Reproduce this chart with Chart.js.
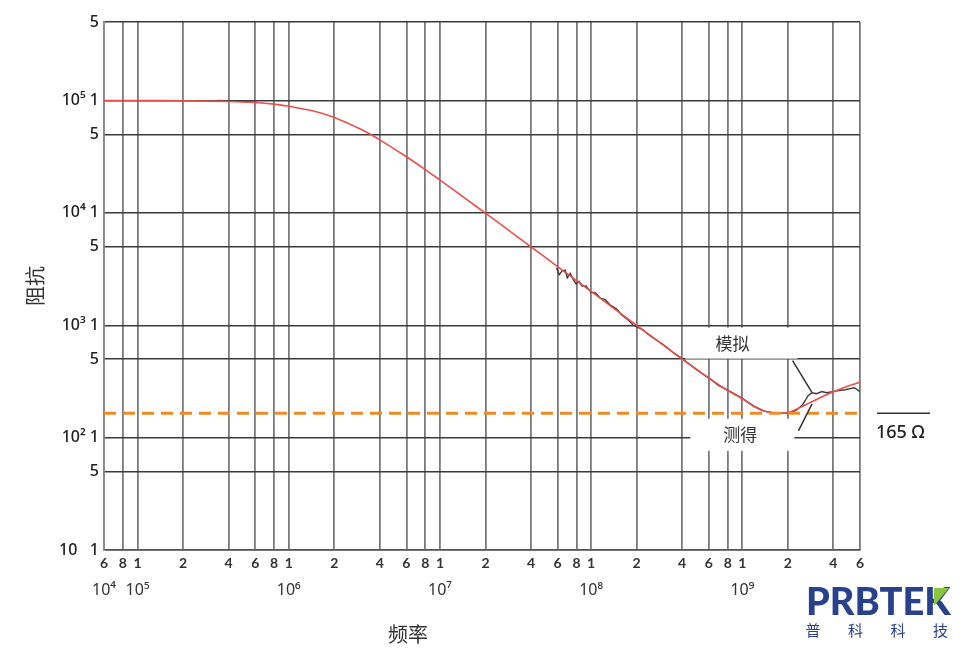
<!DOCTYPE html>
<html>
<head>
<meta charset="utf-8">
<script src="https://cdn.jsdelivr.net/npm/chart.js@4.4.1/dist/chart.umd.min.js"></script>
<style>
  body { margin: 0; background: #fff; }
  #wrap { width: 971px; height: 653px; position: relative; }
</style>
</head>
<body>
<div id="wrap"><canvas id="c"></canvas></div>
<script>
// simulated impedance (red)
const simFreq = [6e4, 1e5, 2e5, 4e5, 6e5, 8e5, 1e6, 1.5e6, 2e6, 3e6, 4e6, 6e6, 8e6, 1e7, 1.5e7, 2e7, 3e7, 4e7, 6e7, 8e7,
  1e8, 1.5e8, 2e8, 3e8, 4e8, 5e8, 6e8, 7e8, 8e8, 1e9, 1.2e9, 1.4e9, 1.6e9, 1.8e9, 2e9, 2.4e9, 2.8e9, 3.3e9, 3.8e9, 4.5e9, 5.2e9, 6e9];
const simZ = [100000, 100000, 99500, 98000, 96000, 93000, 89000, 80000, 70700, 55500, 44700, 31600, 24300, 19600, 13200, 9950, 6650, 4990, 3330, 2500,
  2000, 1330, 1000, 667, 500, 405, 338, 295, 262, 222, 188, 172, 166, 165, 167, 185, 205, 228, 248, 272, 292, 312];

// measured impedance (dark grey), null = gap
const measFreq = [3.4e5, 4.2e5, 5.2e5, 6.2e5, 1e7,
  5.9e7, 6.15e7, 6.44e7, 6.74e7, 6.95e7, 7.27e7, 7.6e7, 7.96e7, 8.32e7, 8.7e7, 9.24e7, 1.0e8, 1.07e8, 1.15e8, 1.24e8, 1.34e8, 1.47e8, 1.6e8, 1.75e8, 1.9e8,
  2.2e8, 2.5e8, 3e8, 3.5e8, 4e8, 5e8, 6e8, 7e8, 8e8, 1e9, 1.2e9, 1.4e9, 1.6e9, 1.8e9, 2.07e9,
  2.3e9, 2.5e9, 2.6e9, 2.72e9, 2.89e9, 3.1e9, 3.36e9, 3.6e9, 3.97e9, 4.35e9, 4.77e9, 5.17e9, 5.5e9, 6e9];
const measZ = [100000, 99200, 97800, 96200, null,
  3250, 2820, 3050, 3100, 2650, 2900, 2560, 2330, 2460, 2230, 2240, 1960, 1940, 1740, 1690, 1510, 1400, 1230, 1120, 1000,
  910, 790, 675, 570, 505, 400, 340, 290, 265, 224, 190, 172, 167, 165, 165,
  177, 196, 213, 236, 251, 246, 257, 251, 257, 262, 267, 273, 278, 257];

const refZ = 165;
const xMin = 6e4, xMax = 6e9;
const yMin = 10, yMax = 5e5;

const xTicks = [6e4, 8e4, 1e5, 2e5, 4e5, 6e5, 8e5, 1e6, 2e6, 4e6, 6e6, 8e6, 1e7, 2e7, 4e7, 6e7, 8e7, 1e8,
  2e8, 4e8, 6e8, 8e8, 1e9, 2e9, 4e9, 6e9];
const decadeTicks = [6e4, 1e5, 1e6, 1e7, 1e8, 1e9];
const decadeLabels = ['10⁴', '10⁵', '10⁶', '10⁷', '10⁸', '10⁹'];
const yTicks = [10, 50, 100, 500, 1000, 5000, 1e4, 5e4, 1e5, 5e5];
const yLabels = ['10   1', '5', '10² 1', '5', '10³ 1', '5', '10⁴ 1', '5', '10⁵ 1', '5'];

const pts = (xs, ys) => xs.map((x, i) => ({ x: x, y: ys[i] }));

const cjk = '"Noto Sans CJK SC", sans-serif';

const overlay = {
  id: 'overlay',
  beforeDatasetsDraw(chart) {
    const ctx = chart.ctx, xs = chart.scales.x, ys = chart.scales.y;
    // white label boxes over the grid
    const a = { x: xs.getPixelForValue(8.6e8), y: ys.getPixelForValue(686) };
    const b = { x: xs.getPixelForValue(9.7e8), y: ys.getPixelForValue(106) };
    ctx.save();
    ctx.fillStyle = '#fff';
    ctx.fillRect(a.x - 47, a.y - 16, 112, 31);
    ctx.fillRect(b.x - 50, b.y - 16, 104, 32);
    ctx.restore();
  },
  afterDraw(chart) {
    const ctx = chart.ctx, xs = chart.scales.x, ys = chart.scales.y;
    ctx.save();
    ctx.fillStyle = '#333';
    ctx.font = '17px ' + cjk;
    ctx.textAlign = 'center';
    ctx.textBaseline = 'middle';
    ctx.fillText('模拟', xs.getPixelForValue(8.6e8), ys.getPixelForValue(686));
    ctx.fillText('测得', xs.getPixelForValue(9.7e8), ys.getPixelForValue(106));

    // leader lines
    ctx.strokeStyle = '#333';
    ctx.lineWidth = 1.5;
    ctx.beginPath();
    ctx.moveTo(xs.getPixelForValue(2.15e9), ys.getPixelForValue(485));
    ctx.lineTo(xs.getPixelForValue(2.89e9), ys.getPixelForValue(251));
    ctx.moveTo(xs.getPixelForValue(2.35e9), ys.getPixelForValue(115));
    ctx.lineTo(xs.getPixelForValue(2.89e9), ys.getPixelForValue(200));
    ctx.stroke();

    // 165 ohm marker
    const yr = ys.getPixelForValue(refZ);
    ctx.beginPath();
    ctx.moveTo(877, yr);
    ctx.lineTo(930, yr);
    ctx.stroke();
    ctx.fillStyle = '#222';
    ctx.font = '500 18px "Noto Sans", sans-serif';
    ctx.textAlign = 'left';
    ctx.fillText('165 Ω', 876, yr + 20);

    // x axis title
    ctx.fillStyle = '#333';
    ctx.font = '20px ' + cjk;
    ctx.textAlign = 'center';
    ctx.fillText('频率', 408, 634);

    // logo
    ctx.fillStyle = '#27418c';
    ctx.font = '900 38px Lato, sans-serif';
    ctx.textAlign = 'left';
    ctx.textBaseline = 'alphabetic';
    ctx.fillText('PRBTEK', 806, 615);
    ctx.fillStyle = '#8cc63f';
    ctx.beginPath();
    ctx.moveTo(934, 588);
    ctx.lineTo(949, 588);
    ctx.lineTo(934, 606);
    ctx.closePath();
    ctx.fill();
    ctx.fillStyle = '#27418c';
    ctx.font = '15px ' + cjk;
    ctx.textAlign = 'center';
    ctx.textBaseline = 'middle';
    ['普', '科', '科', '技'].forEach((ch, i) => ctx.fillText(ch, 813 + i * 42.5, 630));
    ctx.restore();
  }
};

new Chart(document.getElementById('c'), {
  type: 'line',
  data: {
    datasets: [
      {
        label: '165 Ω',
        data: pts([xMin, xMax], [refZ, refZ]),
        borderColor: '#f08a26',
        borderWidth: 3,
        borderDash: [12, 7],
        pointRadius: 0
      },
      {
        label: '模拟',
        data: pts(simFreq, simZ),
        borderColor: '#e8504c',
        borderWidth: 1.6,
        pointRadius: 0,
        tension: 0.3
      },
      {
        label: '测得',
        data: pts(measFreq, measZ),
        borderColor: '#3a3a3a',
        borderWidth: 1.4,
        pointRadius: 0,
        spanGaps: false
      }
    ]
  },
  options: {
    responsive: true,
    maintainAspectRatio: false,
    animation: false,
    layout: { padding: { left: 0, right: 111, top: 22, bottom: 35 } },
    plugins: { legend: { display: false }, tooltip: { enabled: false } },
    scales: {
      x: {
        type: 'logarithmic',
        min: xMin, max: xMax,
        afterBuildTicks: s => { s.ticks = xTicks.map(v => ({ value: v })); },
        afterFit: s => { s.height = 28; },
        grid: { color: 'rgba(90,90,90,0.8)', lineWidth: 1.8, drawTicks: false },
        border: { color: '#555', width: 1.5 },
        ticks: {
          autoSkip: false, maxRotation: 0, padding: 5,
          color: '#333',
          font: { family: 'Lato, sans-serif', size: 14, weight: 'bold' },
          callback: v => String(Math.round(v / Math.pow(10, Math.floor(Math.log10(v) + 1e-9))))
        }
      },
      x2: {
        type: 'logarithmic',
        position: 'bottom',
        min: xMin, max: xMax,
        afterBuildTicks: s => { s.ticks = decadeTicks.map(v => ({ value: v })); },
        afterFit: s => { s.height = 40; },
        grid: { display: false, drawTicks: false },
        border: { display: false },
        ticks: {
          autoSkip: false, maxRotation: 0, padding: 3,
          color: '#333',
          font: { family: '"Noto Sans", sans-serif', size: 16 },
          callback: (v, i) => decadeLabels[i]
        }
      },
      y: {
        type: 'logarithmic',
        min: yMin, max: yMax,
        afterBuildTicks: s => { s.ticks = yTicks.map(v => ({ value: v })); },
        afterFit: s => { s.width = 104; },
        grid: { color: '#3a3a3a', lineWidth: 1.5, drawTicks: false },
        border: { color: '#888', width: 1.5 },
        ticks: {
          padding: 5,
          color: '#222',
          font: { family: '"Noto Sans", sans-serif', size: 16, weight: '500' },
          callback: (v, i) => yLabels[i]
        },
        title: {
          display: true,
          text: '阻抗',
          color: '#333',
          font: { family: cjk, size: 20 },
          padding: { top: 23, bottom: 0 }
        }
      }
    }
  },
  plugins: [overlay]
});
</script>
</body>
</html>
